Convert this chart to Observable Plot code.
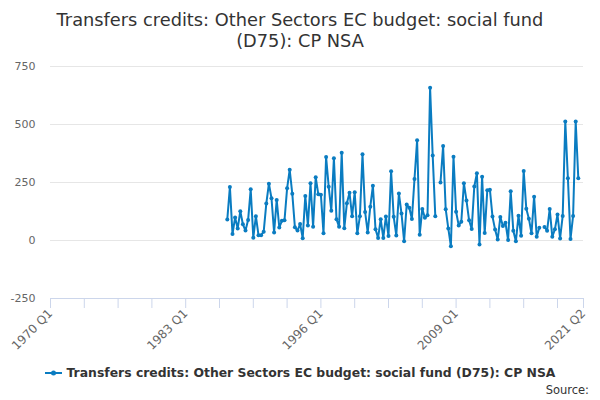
<!DOCTYPE html>
<html><head><meta charset="utf-8">
<script src="https://cdn.jsdelivr.net/npm/d3@7"></script>
<script src="https://cdn.jsdelivr.net/npm/@observablehq/plot@0.6"></script>
<style>
body{margin:0;background:#fff;font-family:"DejaVu Sans",sans-serif;}
#wrap{position:relative;width:600px;height:400px;overflow:hidden;background:#fff;}
#title{position:absolute;top:9px;left:0;width:600px;text-align:center;font-size:17.8px;line-height:21px;color:#333;}
#chart{position:absolute;top:52px;left:0;}
#legend{position:absolute;top:365px;left:0;width:600px;text-align:center;font-size:12.4px;font-weight:bold;color:#333;white-space:nowrap;}
#legend svg{vertical-align:middle;margin-right:5px;position:relative;top:-1px;}
#source{position:absolute;top:383px;right:11px;font-size:11.5px;color:#333;}
</style></head><body>
<div id="wrap">
<div id="title">Transfers credits: Other Sectors EC budget: social fund<br>(D75): CP NSA</div>
<div id="chart"></div>
<div id="legend"><svg width="17" height="10"><line x1="0" y1="5" x2="17" y2="5" stroke="#0a7cc1" stroke-width="2"/><circle cx="8.5" cy="5" r="2.5" fill="#0a7cc1"/></svg>Transfers credits: Other Sectors EC budget: social fund (D75): CP NSA</div>
<div id="source">Source:</div>
</div>
<script>
const seriesName = "Transfers credits: Other Sectors EC budget: social fund (D75): CP NSA";
const lineColor = "#0a7cc1";
const firstYear = 1970;
const lastQuarter = "2021 Q2";
const quarters = [];
for (let y = firstYear; ; y++) {
  let done = false;
  for (let k = 1; k <= 4; k++) {
    const s = `${y} Q${k}`;
    quarters.push(s);
    if (s === lastQuarter) { done = true; break; }
  }
  if (done) break;
}
const seriesStart = "1987 Q1";
const values = [
  91, 231, 28, 99, 52, 126, 70, 43, 88, 221, 12, 105, 23, 23, 38, 159,
  245, 182, 35, 175, 56, 85, 87, 225, 305, 201, 57, 43, 71, 10, 192, 65,
  247, 59, 273, 199, 197, 31, 360, 232, 128, 354, 92, 59, 378, 53, 161, 206,
  105, 208, 31, 104, 372, 123, 35, 146, 236, 49, 11, 92, 11, 103, 19, 299,
  102, 22, 203, 116, -3, 155, 141, 93, 265, 432, 25, 136, 98, 109, 658, 366,
  105, null, 250, 407, 135, 52, -25, 361, 124, 65, 81, 247, 172, 87, 50, 233,
  290, -17, 275, 32, 217, 219, 103, 47, 4, 101, 63, 76, 2, 212, 42, -3,
  107, 20, 300, 137, 94, 31, 189, 16, 55, null, 58, 42, 136, 16, 48, 112,
  9, 106, 513, 268, 6, 106, 513, 268, null, null
];
const yTicks = [-250, 0, 250, 500, 750];
const gridTicks = [0, 250, 500, 750];
const xLabelTicks = ["1970 Q1", "1983 Q1", "1996 Q1", "2009 Q1", "2021 Q2"];

const startIdx = quarters.indexOf(seriesStart);
const data = quarters.map((q, i) => {
  const j = i - startIdx;
  const v = (j >= 0 && j < values.length) ? values[j] : null;
  return {q, v};
});
const tickQuarters = quarters.filter((q, i) => i % 13 === 0);
if (!tickQuarters.includes(lastQuarter)) tickQuarters.push(lastQuarter);

const chart = Plot.plot({
  width: 600,
  height: 300,
  marginLeft: 50,
  marginRight: 17,
  marginTop: 14,
  marginBottom: 54,
  style: {fontFamily: "DejaVu Sans, sans-serif", fontSize: "11px", background: "#fff"},
  x: {type: "point", domain: quarters, padding: 0},
  y: {domain: [-250, 750]},
  marks: [
    Plot.gridY(gridTicks, {stroke: "#e6e6e6", strokeOpacity: 1}),
    Plot.ruleY([-250], {stroke: "#ccd6eb"}),
    Plot.axisY(yTicks, {tickSize: 0, tickPadding: 15, fill: "#666", label: null, tickFormat: d => String(d)}),
    Plot.axisX(tickQuarters, {tickSize: 10, stroke: "#ccd6eb", tickFormat: () => "", label: null}),
    Plot.axisX(xLabelTicks, {tickSize: 0, tickPadding: 13, fill: "#666", tickRotate: -45, fontSize: 12, label: null}),
    Plot.line(data, {x: "q", y: "v", stroke: lineColor, strokeWidth: 2}),
    Plot.dot(data, {x: "q", y: "v", r: 2, fill: lineColor})
  ]
});
document.getElementById("chart").appendChild(chart);
</script>
</body></html>
